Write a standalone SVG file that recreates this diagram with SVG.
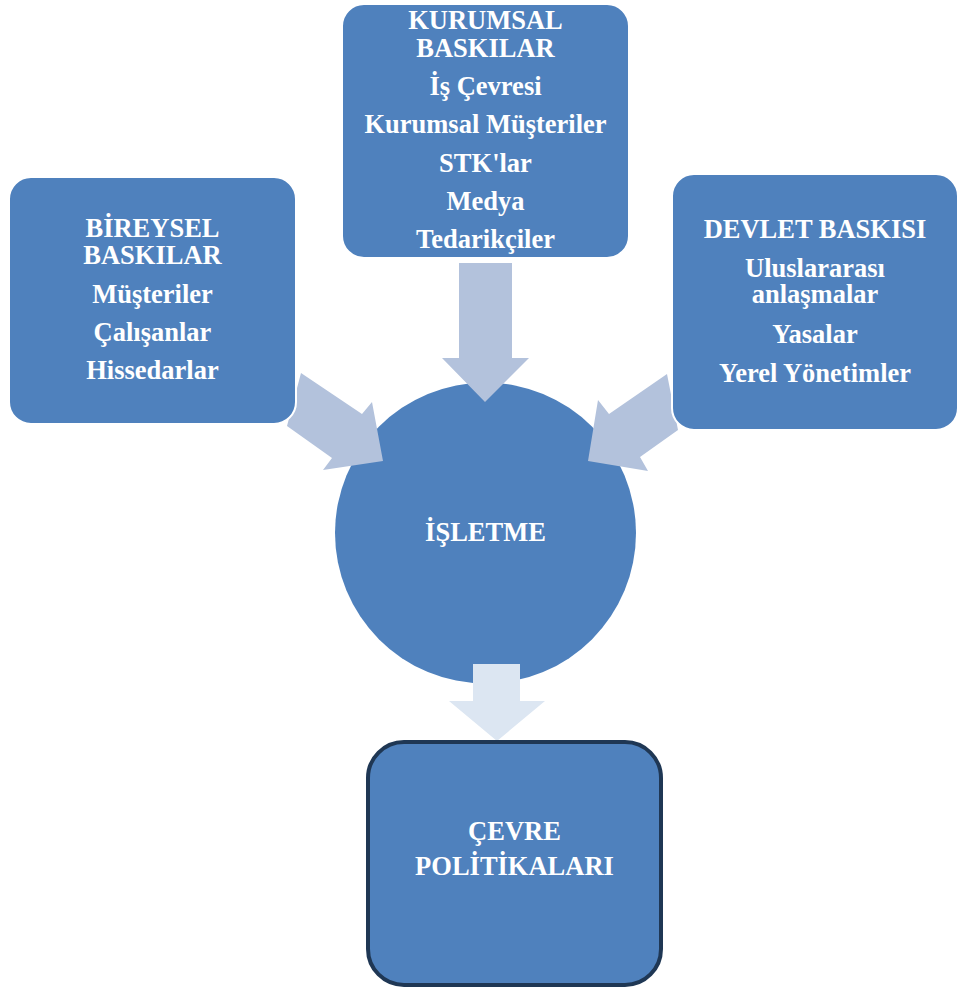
<svg xmlns="http://www.w3.org/2000/svg" width="957" height="992" viewBox="0 0 957 992">
<style>
.box{fill:#4F81BD;stroke:#FFFFFF;stroke-width:2}
.arr{fill:#B3C2DC}
.arr2{fill:#DCE6F2}
.t{font-family:'Liberation Serif','Times New Roman','DejaVu Serif',serif;font-weight:700;fill:#FFFFFF;font-size:26.5px;text-anchor:middle}
</style>
<rect width="957" height="992" fill="#FFFFFF"/>
<g id="isletme">
<circle cx="485.5" cy="533" r="150.5" fill="#4F81BD"/>
<text class="t" x="485.5" y="541">İŞLETME</text>
</g>
<g id="connectors">
<polygon class="arr" points="459,263 512,263 512,358 529,358 485,402 442,358 459,358"/>
<polygon class="arr" points="301,373 362,414 372,402 383,461 323,470 332,458 287,426"/>
<polygon class="arr" points="667,374 609,414 598,400 588,461 648,471 640,457 678,430"/>
<polygon class="arr2" points="473,664 520,664 520,701 545,701 497,741 449,701 473,701"/>
</g>
<g id="kurumsal">
<rect class="box" x="342" y="4" width="287" height="254" rx="22"/>
<text class="t" x="485.5" y="29">KURUMSAL</text>
<text class="t" x="485.5" y="57">BASKILAR</text>
<text class="t" x="485.5" y="95">İş Çevresi</text>
<text class="t" x="485.5" y="133">Kurumsal Müşteriler</text>
<text class="t" x="485.5" y="172">STK'lar</text>
<text class="t" x="485.5" y="210">Medya</text>
<text class="t" x="485.5" y="248">Tedarikçiler</text>
</g>
<g id="bireysel">
<rect class="box" x="9" y="177" width="287" height="247" rx="22"/>
<text class="t" x="152.5" y="237">BİREYSEL</text>
<text class="t" x="152.5" y="264">BASKILAR</text>
<text class="t" x="152.5" y="303">Müşteriler</text>
<text class="t" x="152.5" y="341">Çalışanlar</text>
<text class="t" x="152.5" y="379">Hissedarlar</text>
</g>
<g id="devlet">
<rect class="box" x="672" y="174" width="286" height="256" rx="22"/>
<text class="t" x="815" y="238">DEVLET BASKISI</text>
<text class="t" x="815" y="277">Uluslararası</text>
<text class="t" x="815" y="303">anlaşmalar</text>
<text class="t" x="815" y="343">Yasalar</text>
<text class="t" x="815" y="382">Yerel Yönetimler</text>
</g>
<g id="cevre">
<rect x="368" y="742" width="293" height="243" rx="36" fill="#4F81BD" stroke="#1F3754" stroke-width="4"/>
<text class="t" x="514.5" y="840">ÇEVRE</text>
<text class="t" x="514.5" y="875">POLİTİKALARI</text>
</g>
</svg>
